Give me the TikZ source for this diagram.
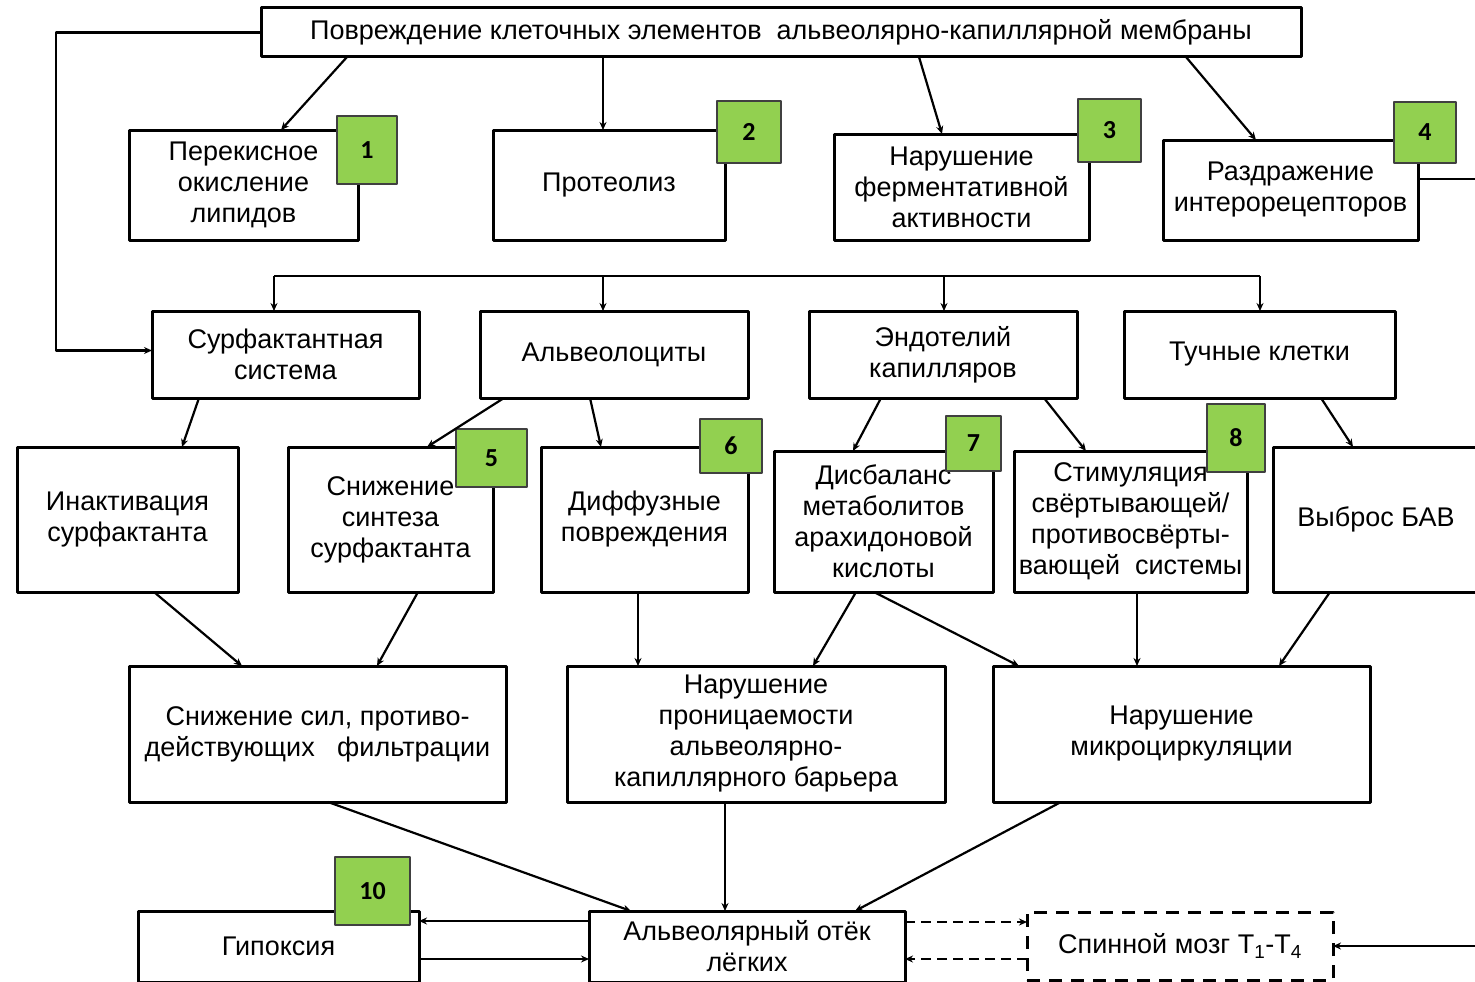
\documentclass[tikz,border=0pt]{standalone}
\usepackage{fontspec}
\setmainfont{Liberation Sans}
\newfontfamily\badgefont{Carlito}
\usetikzlibrary{arrows.meta}
\definecolor{badgegreen}{HTML}{92D050}

\begin{document}
\begin{tikzpicture}[x=1pt,y=-1pt,>={Stealth[length=8pt,width=7pt]}, line join=round,
    block/.style={draw, line width=3pt, anchor=north west, align=center, inner sep=0pt, outer sep=0pt, font=\fontsize{27}{31}\selectfont},
    badge/.style={draw=black!75, line width=1.5pt, fill=badgegreen, anchor=north west, inner sep=0pt, outer sep=0pt, font=\badgefont\bfseries\fontsize{26}{26}\selectfont},
    wh/.style 2 args={minimum width=#1pt, minimum height=#2pt},
    conn/.style={line width=2.2pt},
    arr/.style={conn, ->},
    dashlink/.style={conn, dash pattern=on 10pt off 6pt}]
    \useasboundingbox (0,0) rectangle (1475,982);
    \node[block, wh={1040}{49}] (top) at (261,8) {Повреждение клеточных элементов\ \ альвеолярно-капиллярной мембраны};
    \node[block, wh={229}{110}] (b1) at (129,130) {Перекисное\\окисление\\липидов};
    \node[block, wh={232}{110}] (b2) at (493,130) {Протеолиз};
    \node[block, wh={255}{106}] (b3) at (834,134) {Нарушение\\ферментативной\\активности};
    \node[block, wh={255}{100}] (b4) at (1163,140) {Раздражение\\интерорецепторов};
    \node[block, wh={267}{87}] (surf) at (152,311) {Сурфактантная\\система};
    \node[block, wh={268}{87}] (alv) at (480,311) {Альвеолоциты};
    \node[block, wh={268}{87}] (endo) at (809,311) {Эндотелий\\капилляров};
    \node[block, wh={271}{87}] (tuch) at (1124,311) {Тучные клетки};
    \node[block, wh={221}{145}] (inact) at (17,447) {Инактивация\\сурфактанта};
    \node[block, wh={205}{145}] (snizh) at (288,447) {Снижение\\синтеза\\сурфактанта};
    \node[block, wh={207}{145}] (diff) at (541,447) {Диффузные\\повреждения};
    \node[block, wh={219}{141}] (disb) at (774,451) {Дисбаланс\\метаболитов\\арахидоновой\\кислоты};
    \node[block, wh={233}{141}] (stim) at (1014,451) {Стимуляция\\свёртывающей/\\противосвёрты-\\вающей\ \ системы};
    \node[block, wh={206}{145}] (vybr) at (1273,447) {Выброс БАВ};
    \node[block, wh={377}{136}] (sil) at (129,666) {Снижение сил, противо-\\действующих\ \ \ фильтрации};
    \node[block, wh={378}{136}] (pron) at (567,666) {Нарушение\\проницаемости\\альвеолярно-\\капиллярного барьера};
    \node[block, wh={377}{136}] (micro) at (993,666) {Нарушение\\микроциркуляции};
    \node[block, wh={281}{71}] (hyp) at (138,911) {Гипоксия};
    \node[block, wh={316}{71}] (edema) at (589,911) {Альвеолярный отёк\\лёгких};
    \node[block, wh={306}{68}, dash pattern=on 13pt off 9pt] (spine) at (1027,912) {Спинной мозг T\textsubscript{1}-T\textsubscript{4}};

    \node[badge, wh={60}{68}] (n1) at (337,116) {1};
    \node[badge, wh={64}{62}] (n2) at (717,101) {2};
    \node[badge, wh={63}{63}] (n3) at (1078,99) {3};
    \node[badge, wh={62}{61}] (n4) at (1394,102) {4};
    \node[badge, wh={71}{58}] (n5) at (456,429) {5};
    \node[badge, wh={62}{54}] (n6) at (700,419) {6};
    \node[badge, wh={55}{55}] (n7) at (946,416) {7};
    \node[badge, wh={58}{68}] (n8) at (1207,404) {8};
    \node[badge, wh={75}{68}] (n10) at (335,857) {10};

    \draw[arr] ([xshift=86pt]top.south west) -- ([xshift=152pt]b1.north west);
    \draw[arr] ([xshift=342pt]top.south west) -- ([xshift=110pt]b2.north west);
    \draw[arr] ([xshift=658pt]top.south west) -- ([xshift=108pt]b3.north west);
    \draw[arr] ([xshift=925pt]top.south west) -- ([xshift=93pt]b4.north west);
    \draw[arr] (top.west) -- ++(-205,0) |- ([yshift=4pt]surf.west);
    \coordinate (rout) at (1475,179);
    \draw[conn] (b4.east |- rout) -- (rout);

    \coordinate (d1) at (274,276);
    \coordinate (d2) at (603,276);
    \coordinate (d3) at (944,276);
    \coordinate (d4) at (1260,276);
    \draw[conn] (d1) -- (d4);
    \foreach \d/\n in {d1/surf, d2/alv, d3/endo, d4/tuch}
        \draw[arr] (\d) -- (\d |- \n.north);

    \draw[arr] ([xshift=47pt]surf.south west) -- ([xshift=165pt]inact.north west);
    \draw[arr] ([xshift=24pt]alv.south west) -- ([xshift=139pt]snizh.north west);
    \draw[arr] ([xshift=110pt]alv.south west) -- ([xshift=60pt]diff.north west);
    \draw[arr] ([xshift=72pt]endo.south west) -- ([xshift=79pt]disb.north west);
    \draw[arr] ([xshift=235pt]endo.south west) -- ([xshift=72pt]stim.north west);
    \draw[arr] ([xshift=197pt]tuch.south west) -- ([xshift=80pt]vybr.north west);

    \draw[arr] ([xshift=137pt]inact.south west) -- ([xshift=113pt]sil.north west);
    \draw[arr] ([xshift=130pt]snizh.south west) -- ([xshift=248pt]sil.north west);
    \draw[arr] ([xshift=97pt]diff.south west) -- ([xshift=71pt]pron.north west);
    \draw[arr] ([xshift=82pt]disb.south west) -- ([xshift=246pt]pron.north west);
    \draw[arr] ([xshift=100pt]disb.south west) -- ([xshift=26pt]micro.north west);
    \draw[arr] ([xshift=123pt]stim.south west) -- ([xshift=144pt]micro.north west);
    \draw[arr] ([xshift=57pt]vybr.south west) -- ([xshift=286pt]micro.north west);

    \draw[arr] ([xshift=199pt]sil.south west) -- ([xshift=42pt]edema.north west);
    \draw[arr] ([xshift=158pt]pron.south west) -- ([xshift=136pt]edema.north west);
    \draw[arr] ([xshift=68pt]micro.south west) -- ([xshift=266pt]edema.north west);

    \draw[arr] ([yshift=-10pt]edema.north west) -- ([yshift=-10pt]hyp.north east);
    \draw[arr] ([yshift=-48pt]hyp.north east) -- ([yshift=-48pt]edema.north west);
    \draw[dashlink, ->] ([yshift=-11pt]edema.north east) -- ([yshift=-10pt]spine.north west);
    \draw[dashlink, ->] ([yshift=-47pt]spine.north west) -- ([yshift=-48pt]edema.north east);
    \coordinate (rin) at (1475,946);
    \draw[arr] (rin) -- (spine.east);
\end{tikzpicture}
\end{document}
